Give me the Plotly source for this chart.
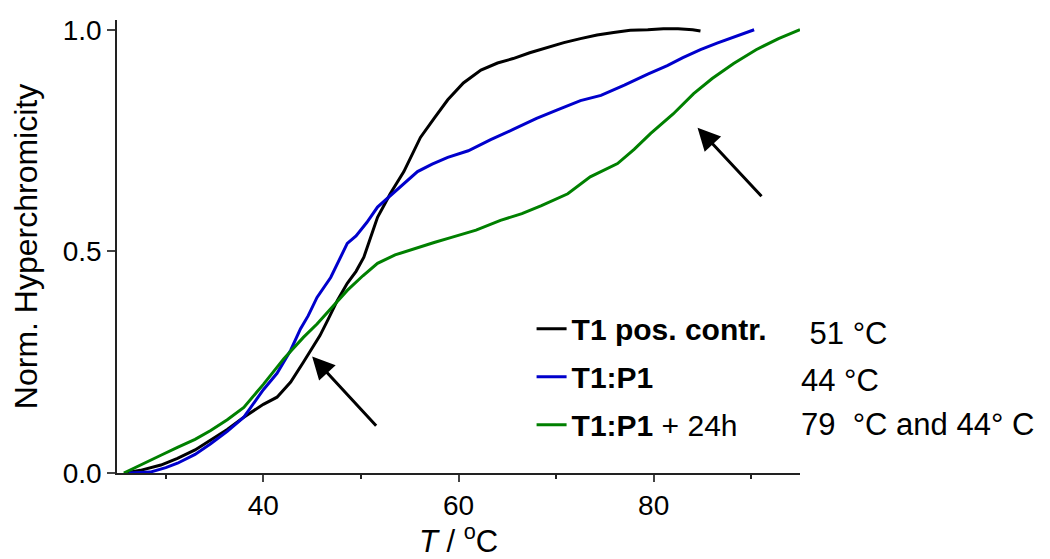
import plotly.graph_objects as go

# melting curves (T in degC, normalised hyperchromicity)
t_ctrl = [25.8, 27.4, 29.5, 31.2, 33.0, 34.6, 36.3, 38.0, 40.0, 41.4, 42.8, 44.1, 44.8, 45.8, 46.6,
          47.6, 48.6, 49.5, 50.3, 51.0, 51.7, 52.4, 53.0, 54.4, 55.4, 56.1, 57.5, 58.9, 60.5, 62.3,
          64.0, 65.6, 67.3, 69.1, 70.8, 72.5, 74.2, 75.9, 77.6, 79.4, 81.0, 82.5, 84.0, 84.8]
h_ctrl = [0.0, 0.006, 0.018, 0.033, 0.052, 0.074, 0.098, 0.126, 0.155, 0.171, 0.205, 0.25, 0.275, 0.31, 0.345,
          0.39, 0.428, 0.455, 0.487, 0.53, 0.577, 0.605, 0.63, 0.68, 0.725, 0.757, 0.80, 0.842, 0.88, 0.909,
          0.925, 0.935, 0.948, 0.96, 0.971, 0.98, 0.988, 0.994, 0.999, 1.0, 1.002, 1.002, 1.0, 0.997]

t_p1 = [26.2, 28.4, 30.0, 31.2, 33.0, 34.6, 36.3, 38.0, 40.0, 41.4, 42.8, 43.8, 44.6, 45.5, 46.9,
        47.8, 48.6, 49.5, 50.6, 51.7, 53.3, 54.5, 55.8, 57.3, 58.9, 61.0, 63.3, 65.6, 68.0, 70.2,
        72.5, 74.6, 77.0, 79.4, 81.4, 83.0, 84.8, 86.5, 88.5, 90.3]
h_p1 = [0.0, 0.002, 0.012, 0.022, 0.042, 0.066, 0.094, 0.126, 0.188, 0.225, 0.277, 0.325, 0.355, 0.396, 0.441,
        0.48, 0.518, 0.535, 0.565, 0.6, 0.631, 0.655, 0.68, 0.697, 0.712, 0.727, 0.752, 0.775, 0.80, 0.82,
        0.84, 0.852, 0.875, 0.9, 0.919, 0.937, 0.955, 0.97, 0.985, 1.0]

t_p1_24h = [25.7, 27.7, 29.5, 31.2, 33.0, 34.6, 36.3, 38.0, 40.0, 42.1, 44.1, 45.5, 47.0, 48.6, 50.2,
            51.7, 53.5, 55.8, 57.5, 59.2, 61.8, 64.3, 66.5, 68.5, 71.2, 73.5, 76.3, 78.0, 79.7, 82.0,
            84.1, 86.0, 88.2, 90.5, 92.8, 95.0]
h_p1_24h = [0.0, 0.022, 0.04, 0.058, 0.076, 0.096, 0.12, 0.148, 0.2, 0.258, 0.306, 0.336, 0.372, 0.412, 0.445,
            0.473, 0.492, 0.509, 0.52, 0.531, 0.548, 0.57, 0.585, 0.603, 0.63, 0.668, 0.698, 0.73, 0.766, 0.81,
            0.856, 0.89, 0.924, 0.955, 0.98, 1.0]

names = ["<b>T1 pos. contr.</b>", "<b>T1:P1</b>", "<b>T1:P1</b> + 24h"]
tm_labels = [" 51 °C", "44 °C", "79  °C and 44° C"]
colors = ["#000000", "#0000CC", "#008000"]

# arrows: (tail T, tail h, head T, head h)
arrows = [(51.7, 0.103, 45.0, 0.263), (91.2, 0.621, 84.5, 0.779)]

font = "Liberation Sans, Arial, sans-serif"

fig = go.Figure()
series = [(t_ctrl, h_ctrl), (t_p1, h_p1), (t_p1_24h, h_p1_24h)]
for i, (t, h) in enumerate(series):
    fig.add_trace(go.Scatter(x=t, y=h, mode="lines", name=names[i], legendgroup=str(i),
                             line=dict(color=colors[i], width=3)))

for tx, ty, hx, hy in arrows:
    fig.add_annotation(x=hx, y=hy, ax=tx, ay=ty, xref="x", yref="y", axref="x", ayref="y",
                       showarrow=True, arrowhead=2, arrowsize=1.5, arrowwidth=3, arrowcolor="black",
                       text="")

tm_y = [0.309, 0.205, 0.106]
for lab, yy in zip(tm_labels, tm_y):
    fig.add_annotation(x=0.999, y=yy, xref="paper", yref="paper", xanchor="left", yanchor="middle",
                       text=lab.replace("  ", "&nbsp; "), showarrow=False,
                       font=dict(size=31, color="black", family=font))

# page body has an 8px margin, so the figure is a bit smaller than the window
fig.update_layout(
    width=1042, height=551,
    margin=dict(l=109, r=250, t=12, b=86),
    plot_bgcolor="white", paper_bgcolor="white",
    font=dict(family=font, size=28, color="black"),
    legend=dict(x=0.607, y=0.376, xanchor="left", yanchor="top", bgcolor="rgba(0,0,0,0)",
                font=dict(size=30), tracegroupgap=6, traceorder="grouped"),
    showlegend=True,
)
fig.update_xaxes(range=[25, 95], tickvals=[40, 60, 80], ticks="outside", ticklen=7, tickwidth=1.5,
                 showline=True, linecolor="#222", linewidth=1.5, showgrid=False, zeroline=False,
                 automargin=False,
                 minor=dict(dtick=10, tick0=0, ticks="outside", ticklen=4, tickwidth=1.5, tickcolor="#222"),
                 title=dict(text="<i>T</i> / <sup>o</sup>C", standoff=11, font=dict(size=31)))
fig.update_yaxes(range=[0, 1.022], tickvals=[0, 0.5, 1.0], tickformat=".1f", ticks="outside", ticklen=8,
                 tickwidth=1.5, showline=True, linecolor="#222", linewidth=1.5, showgrid=False, zeroline=False,
                 automargin=False,
                 title=dict(text="Norm. Hyperchromicity", standoff=16, font=dict(size=32)))

fig.write_html("out.html")
